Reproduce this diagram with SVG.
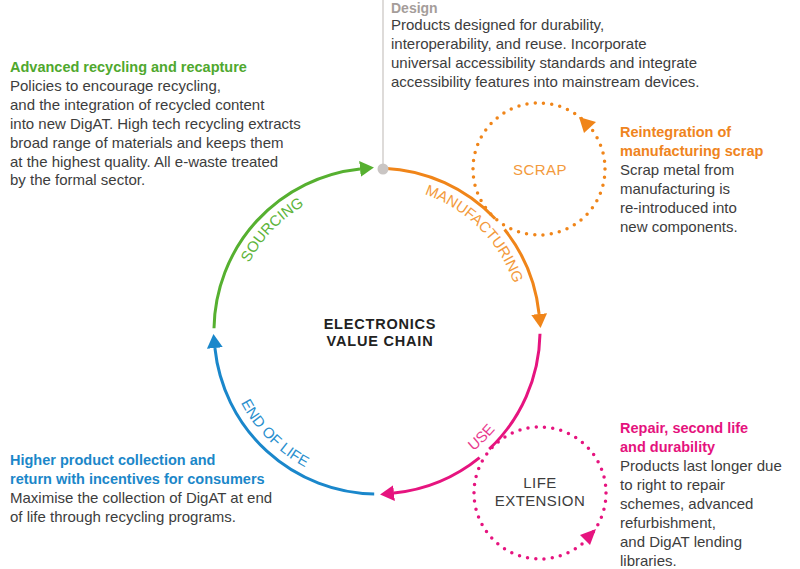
<svg xmlns="http://www.w3.org/2000/svg" width="800" height="569" viewBox="0 0 800 569">
<style>
text{font-family:"Liberation Sans",Arial,sans-serif;}
.body{font-size:15px;fill:#3d3d3d;}
.hd{font-size:14.5px;font-weight:bold;}
.arc{fill:none;stroke-width:3;}
.lbl{font-size:15px;}
.dot{fill:none;stroke-width:3.5;stroke-linecap:round;stroke-dasharray:0 8.29;}
.ctr{font-size:14.5px;font-weight:bold;fill:#222;letter-spacing:0.8px;}
</style>
<defs>
<marker id="ag" markerUnits="userSpaceOnUse" markerWidth="14" markerHeight="16" viewBox="0 0 14 16" refX="0" refY="8" orient="auto"><path d="M0,0 L14,8 L0,16 z" fill="#56b030"/></marker>
<marker id="ao" markerUnits="userSpaceOnUse" markerWidth="14" markerHeight="16" viewBox="0 0 14 16" refX="0" refY="8" orient="auto"><path d="M0,0 L14,8 L0,16 z" fill="#f08519"/></marker>
<marker id="am" markerUnits="userSpaceOnUse" markerWidth="14" markerHeight="16" viewBox="0 0 14 16" refX="0" refY="8" orient="auto"><path d="M0,0 L14,8 L0,16 z" fill="#e6147f"/></marker>
<marker id="ab" markerUnits="userSpaceOnUse" markerWidth="14" markerHeight="16" viewBox="0 0 14 16" refX="0" refY="8" orient="auto"><path d="M0,0 L14,8 L0,16 z" fill="#1a87cb"/></marker>
<path id="pSrc" d="M232.4,320.9 A145,145 0 0,1 361.8,186.8"/>
<path id="pMan" d="M364.4,186.6 A145,145 0 0,1 521.4,343.6"/>
<path id="pEol" d="M223.6,317.6 A154,154 0 0,0 390.4,484.4"/>
<path id="pUse" d="M362.2,484.3 A154,154 0 0,0 530.5,318.9"/>
</defs>

<g id="connectors">
<line x1="383" y1="0" x2="383" y2="165" stroke="#d3cfcd" stroke-width="1.5"/>
<path class="arc" stroke="#56b030" d="M214.0,328.2 A163,163 0 0,1 360.0,168.9" marker-end="url(#ag)"/>
<path class="arc" stroke="#f08519" d="M384.1,168.2 A163,163 0 0,1 495.2,218.8"/>
<path class="arc" stroke="#f08519" d="M504.6,229.5 A163,163 0 0,1 539.1,314.0" marker-end="url(#ao)"/>
<path class="arc" stroke="#e6147f" d="M540.0,333.8 A163,163 0 0,1 489.2,449.2"/>
<path class="arc" stroke="#e6147f" d="M479.6,457.7 A163,163 0 0,1 394.0,493.1" marker-end="url(#am)"/>
<path class="arc" stroke="#1a87cb" d="M374.2,494.0 A163,163 0 0,1 214.9,348.0" marker-end="url(#ab)"/>
<circle class="dot" stroke="#f08519" cx="539" cy="169" r="66"/>
<polygon points="579,117 596,122 584,133" fill="#f08519"/>
<circle class="dot" stroke="#e6147f" cx="540" cy="493" r="66"/>
<polygon points="580,535 596,529 590,545" fill="#e6147f"/>
<circle cx="383" cy="169" r="5.5" fill="#c9c5c3"/>
</g>

<g id="sourcing"><text class="lbl" fill="#5db43a"><textPath href="#pSrc" startOffset="50%" text-anchor="middle">SOURCING</textPath></text></g>
<g id="manufacturing"><text class="lbl" fill="#f39a3c"><textPath href="#pMan" startOffset="50%" text-anchor="middle">MANUFACTURING</textPath></text></g>
<g id="endoflife"><text class="lbl" fill="#2a8fce"><textPath href="#pEol" startOffset="50%" text-anchor="middle">END OF LIFE</textPath></text></g>
<g id="use"><text class="lbl" fill="#e93a8e"><textPath href="#pUse" startOffset="50%" text-anchor="middle">USE</textPath></text></g>

<g id="center">
<text class="ctr" x="380" y="329" text-anchor="middle">ELECTRONICS</text>
<text class="ctr" x="380" y="346" text-anchor="middle">VALUE CHAIN</text>
</g>

<g id="scrap"><text x="540" y="175" text-anchor="middle" font-size="15" fill="#f39a3c" letter-spacing="0.5">SCRAP</text></g>
<g id="lifeext">
<text x="540" y="488" text-anchor="middle" font-size="15" fill="#3d3d3d" letter-spacing="0.4">LIFE</text>
<text x="540" y="506" text-anchor="middle" font-size="15" fill="#3d3d3d" letter-spacing="0.4">EXTENSION</text>
</g>

<g id="design">
<text x="391" y="13" font-size="14" font-weight="bold" fill="#a59d9a">Design</text>
<text class="body" x="391" y="30">Products designed for durability,</text>
<text class="body" x="391" y="49">interoperability, and reuse. Incorporate</text>
<text class="body" x="391" y="68">universal accessibility standards and integrate</text>
<text class="body" x="391" y="87">accessibility features into mainstream devices.</text>
</g>

<g id="recycling">
<text class="hd" x="10" y="72" fill="#4fa82e">Advanced recycling and recapture</text>
<text class="body" x="10" y="91">Policies to encourage recycling,</text>
<text class="body" x="10" y="110">and the integration of recycled content</text>
<text class="body" x="10" y="129">into new DigAT. High tech recycling extracts</text>
<text class="body" x="10" y="148">broad range of materials and keeps them</text>
<text class="body" x="10" y="166.5">at the highest quality. All e-waste treated</text>
<text class="body" x="10" y="185">by the formal sector.</text>
</g>

<g id="reintegration">
<text class="hd" x="620" y="137" fill="#ef8420">Reintegration of</text>
<text class="hd" x="620" y="156" fill="#ef8420">manufacturing scrap</text>
<text class="body" x="620" y="175">Scrap metal from</text>
<text class="body" x="620" y="194">manufacturing is</text>
<text class="body" x="620" y="213">re-introduced into</text>
<text class="body" x="620" y="232">new components.</text>
</g>

<g id="collection">
<text class="hd" x="10" y="465" fill="#1b87c9">Higher product collection and</text>
<text class="hd" x="10" y="484" fill="#1b87c9">return with incentives for consumers</text>
<text class="body" x="10" y="503">Maximise the collection of DigAT at end</text>
<text class="body" x="10" y="522">of life through recycling programs.</text>
</g>

<g id="repair">
<text class="hd" x="620" y="433" fill="#e5127d">Repair, second life</text>
<text class="hd" x="620" y="452" fill="#e5127d">and durability</text>
<text class="body" x="620" y="471">Products last longer due</text>
<text class="body" x="620" y="490">to right to repair</text>
<text class="body" x="620" y="509">schemes, advanced</text>
<text class="body" x="620" y="528">refurbishment,</text>
<text class="body" x="620" y="547">and DigAT lending</text>
<text class="body" x="620" y="566">libraries.</text>
</g>
</svg>
